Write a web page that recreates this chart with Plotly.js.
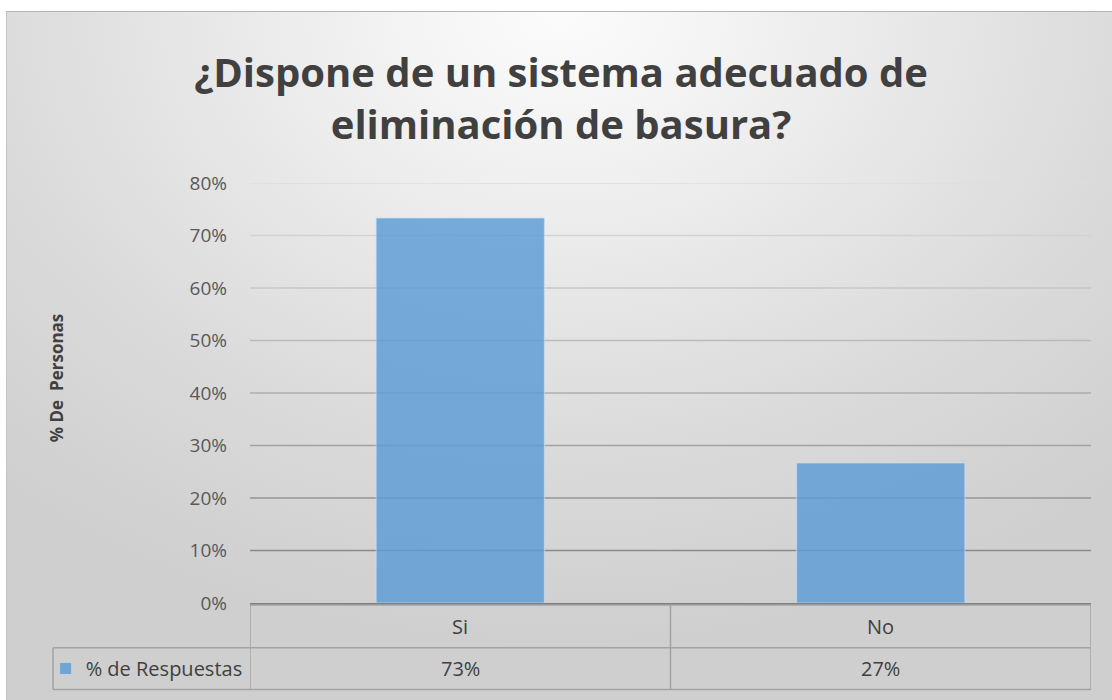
<!DOCTYPE html>
<html>
<head>
<meta charset="utf-8">
<script src="https://cdn.plot.ly/plotly-3.0.1.min.js"></script>
<style>
  html, body { margin: 0; padding: 0; background: #ffffff; width: 1112px; height: 700px; overflow: hidden; }
  #frame {
    position: absolute; left: 6px; top: 11px; width: 1106px; height: 689px;
    border-top: 1px solid #b4b4b4; border-left: 1px solid #c4c4c4;
    background: radial-gradient(ellipse 834px 630px at 50% 0px,
      #fbfbfb 0%, #f6f6f6 14%, #eeeeee 30%, #dbdbdb 68%, #cfcfcf 100%);
  }
  #chart { position: absolute; left: 0; top: 0; width: 1105px; height: 688px; }
</style>
</head>
<body>
<div id="frame"><div id="chart"></div></div>
<script>
// ---- data ----
const categories = ['Si', 'No'];
const respuestas = [73.33, 26.67];
const seriesName = '% de Respuestas';
const yTickVals = [0, 10, 20, 30, 40, 50, 60, 70, 80];
const yTickText = ['0%', '10%', '20%', '30%', '40%', '50%', '60%', '70%', '80%'];
const chartTitle = '¿Dispone de un sistema adecuado de<br>eliminación de basura?';
const yAxisTitle = '% De\u00a0 Personas';

// ---- styles ----
const FONT = 'Open Sans, sans-serif';
const TXT = '#404040';
const TABLE_LINE = '#a3a3a3';
const keyLeft = -0.2342;
const row1Bottom = -0.1064;
const row2Bottom = -0.2057;
const tableTop = -0.0047;

function gridColor(v) {
  // lighter near the top, darker near the bottom
  const t = (v - 10) / 70;
  const c = Math.round(0x8a + t * (0xde - 0x8a));
  return 'rgb(' + c + ',' + c + ',' + c + ')';
}

const shapes = [];
yTickVals.forEach(v => {
  if (v === 0) return;
  shapes.push({ type: 'line', layer: 'below', xref: 'paper', yref: 'y',
    x0: 0, x1: 1, y0: v, y1: v, line: { color: gridColor(v), width: 1.6 } });
});
// data table lines
shapes.push({ type: 'line', xref: 'paper', yref: 'paper', x0: 0, x1: 1, y0: tableTop, y1: tableTop,
  line: { color: TABLE_LINE, width: 1.5 } });
shapes.push({ type: 'line', xref: 'paper', yref: 'paper', x0: keyLeft, x1: 1, y0: row1Bottom, y1: row1Bottom,
  line: { color: TABLE_LINE, width: 1.5 } });
shapes.push({ type: 'line', xref: 'paper', yref: 'paper', x0: keyLeft, x1: 1, y0: row2Bottom, y1: row2Bottom,
  line: { color: TABLE_LINE, width: 1.5 } });
shapes.push({ type: 'line', xref: 'paper', yref: 'paper', x0: keyLeft, x1: keyLeft, y0: row1Bottom, y1: row2Bottom,
  line: { color: TABLE_LINE, width: 1.5 } });
for (let i = 0; i <= categories.length; i++) {
  shapes.push({ type: 'line', xref: 'x', yref: 'paper', x0: i - 0.5, x1: i - 0.5, y0: tableTop, y1: row2Bottom,
    line: { color: TABLE_LINE, width: 1.5 } });
}

const annotations = [];
categories.forEach((c, i) => {
  annotations.push({ xref: 'x', yref: 'paper', x: c, y: (tableTop + row1Bottom) / 2, text: c,
    xanchor: 'center', yanchor: 'middle',
    showarrow: false, font: { family: FONT, size: 20, color: TXT } });
  annotations.push({ xref: 'x', yref: 'paper', x: c, y: (row1Bottom + row2Bottom) / 2,
    xanchor: 'center', yanchor: 'middle',
    text: Math.round(respuestas[i]) + '%', showarrow: false, font: { family: FONT, size: 20, color: TXT } });
});
annotations.push({ xref: 'paper', yref: 'paper', x: -0.230, y: 0.5366, text: yAxisTitle, textangle: -90,
  xanchor: 'center', yanchor: 'middle',
  showarrow: false, font: { family: FONT, size: 17, color: TXT, weight: 'bold' } });

const trace = {
  type: 'bar', x: categories, y: respuestas, name: seriesName,
  marker: { color: 'rgba(91,155,213,0.82)', line: { color: 'rgba(200,222,242,0.7)', width: 1 } },
  hoverinfo: 'skip', showlegend: true
};

const layout = {
  width: 1105, height: 688,
  margin: { l: 243, r: 21, t: 171, b: 94, pad: 0 },
  paper_bgcolor: 'rgba(0,0,0,0)', plot_bgcolor: 'rgba(0,0,0,0)',
  font: { family: FONT, color: TXT },
  title: { text: chartTitle, x: 0.5014, xanchor: 'center', xref: 'container',
    y: 1 - 75 / 688, yanchor: 'top', yref: 'container',
    font: { family: FONT, size: 40, color: TXT, weight: 'bold' } },
  bargap: 0.6,
  xaxis: { type: 'category', range: [-0.5, categories.length - 0.5], showticklabels: false,
    showgrid: false, zeroline: false, showline: true, linecolor: '#7f7f7f', linewidth: 2,
    ticks: '', fixedrange: true },
  yaxis: { range: [0, 80], tickvals: yTickVals, ticktext: yTickText, showgrid: false, zeroline: false,
    showline: false, ticks: '', ticklabelstandoff: 22,
    tickfont: { family: FONT, size: 19, color: '#595959' }, fixedrange: true },
  showlegend: true,
  legend: { x: -0.2430, xanchor: 'left', y: (row1Bottom + row2Bottom) / 2, yanchor: 'middle',
    bgcolor: 'rgba(0,0,0,0)', borderwidth: 0, font: { family: FONT, size: 20, color: TXT } },
  shapes: shapes,
  annotations: annotations
};

Plotly.newPlot('chart', [trace], layout, { displayModeBar: false, staticPlot: true });
</script>
</body>
</html>
